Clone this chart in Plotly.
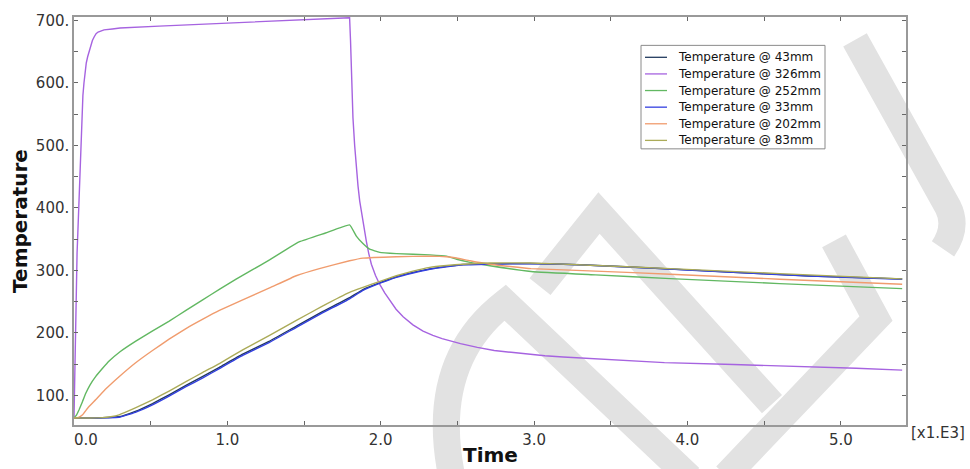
import plotly.graph_objects as go

# ---------------- data ----------------
series_names = ["Temperature @ 43mm", "Temperature @ 326mm", "Temperature @ 252mm",
                "Temperature @ 33mm", "Temperature @ 202mm", "Temperature @ 83mm"]
series_colors = ["#223a5e", "#a663e0", "#62b862", "#3340e0", "#f09c6e", "#abab58"]

t_43 = [0, 150, 220, 294, 400, 512, 620, 730, 840, 948, 1100, 1275, 1450, 1620, 1797,
        1884, 2000, 2102, 2210, 2320, 2430, 2538, 2712, 2974, 3300, 3824, 4300, 4800, 5400]
T_43 = [64, 64, 64.6, 65.8, 74.5, 87, 101, 116, 130.5, 145, 166, 187, 211, 234, 256.5,
        269.5, 281, 290, 297, 302.5, 306.5, 309.5, 310.5, 311.2, 309.2, 303.2, 297.2, 291.2, 286.5]

t_326 = [0, 4, 8, 12, 16, 20, 25, 29, 33, 38, 42, 47, 52, 58, 65, 72, 80, 89, 98, 109, 120,
         132, 144, 157, 170, 183, 196, 250, 300, 555, 993, 1425, 1600, 1797,
         1803, 1808, 1813, 1819, 1830, 1841, 1852, 1863, 1874, 1884, 1895, 1906, 1922, 1939,
         1966, 1993, 2026, 2059, 2100, 2146, 2210, 2276, 2340, 2400, 2460, 2520, 2630,
         2740, 2850, 2950, 3070, 3190, 3500, 3850, 4300, 4739, 5100, 5400]
T_326 = [64, 125, 180, 238, 290, 328, 360, 387, 411, 452, 490, 524, 554, 580, 600, 618, 632,
         642, 650, 660, 668, 674, 679, 681.5, 683, 684, 685, 686.5, 688, 691, 696, 700, 702, 704.5,
         668, 623, 584, 544, 500, 464, 435, 411, 393, 379, 362, 347, 327, 310,
         292, 278, 264, 252, 238, 226, 213, 203, 196, 191, 187, 183, 177,
         172, 169, 166, 163.5, 161.5, 157, 152.5, 149.5, 146.5, 143.5, 140.5]

t_252 = [0, 15, 33, 55, 76, 105, 141, 185, 229, 300, 403, 510, 621, 730, 839, 950, 1057,
         1170, 1275, 1380, 1471, 1640, 1797, 1841, 1884, 1928, 1993, 2102, 2320, 2429,
         2495, 2582, 2712, 2980, 3400, 3889, 4600, 5400]
T_252 = [64, 68, 77, 90, 103, 117, 130, 143, 155, 170, 187, 203, 219, 236, 253, 270, 286,
         302, 317, 333, 346, 360, 373, 355, 343, 334, 329, 327, 325, 323,
         318, 313, 307.5, 298.4, 293, 287, 279, 271]

t_33 = [0, 150, 220, 294, 400, 512, 620, 730, 840, 948, 1100, 1275, 1450, 1620, 1797,
        1884, 2000, 2102, 2210, 2320, 2430, 2538, 2712, 2974, 3300, 3824, 4300, 4800, 5400]
T_33 = [64, 64, 64.3, 65, 73, 85, 99, 114, 128, 143, 164, 185, 209, 232, 254.5,
        268, 280, 289, 296, 302, 306, 309, 310, 311, 309, 303, 297, 291, 286]

t_202 = [0, 30, 54, 90, 141, 210, 294, 400, 512, 620, 730, 840, 948, 1100, 1275, 1449,
         1600, 1797, 1884, 2102, 2320, 2429, 2495, 2582, 2712, 2980, 3400, 3889, 4600, 5400]
T_202 = [64, 65, 68.6, 80, 93, 111, 130, 152, 172, 190, 207, 222, 236, 253, 272, 291.5,
         303, 315.5, 319.7, 322, 323, 322, 320, 315.5, 310, 303, 299, 294, 286, 278]

t_83 = [0, 100, 185, 240, 294, 400, 512, 620, 730, 840, 948, 1100, 1275, 1450, 1620, 1797,
        1884, 2000, 2102, 2210, 2320, 2430, 2538, 2712, 2974, 3400, 3889, 4600, 5400]
T_83 = [64, 64, 64.5, 66, 69, 80, 93, 107, 122, 137, 151, 173, 196, 220, 243, 265,
        273, 283, 291.5, 299, 305, 308, 310, 312, 312, 308, 303, 295, 286.5]

x_tick_vals = [0, 500, 1000, 1500, 2000, 2500, 3000, 3500, 4000, 4500, 5000]
x_tick_text = ["\u00a0\u00a0\u00a0\u00a0\u00a00.0", "", "1.0", "", "2.0", "", "3.0", "", "4.0", "", "5.0"]
y_tick_vals = [100, 150, 200, 250, 300, 350, 400, 450, 500, 550, 600, 650, 700]
y_tick_text = ["100.", "", "200.", "", "300.", "", "400.", "", "500.", "", "600.", "", "700."]

series_t = [t_43, t_326, t_252, t_33, t_202, t_83]
series_T = [T_43, T_326, T_252, T_33, T_202, T_83]
series_shape = ["spline", "linear", "spline", "spline", "spline", "spline"]

# ---------------- layout helpers (pixel -> paper) ----------------
ML, MR, MT, MB, W, H = 74, 64, 15, 44, 970, 469
PW, PH = W - ML - MR, H - MT - MB


def px(xp):
    return (xp - ML) / PW


def py(yp):
    return (H - MB - yp) / PH


def path(cmds):
    out = []
    for c in cmds:
        if isinstance(c, str):
            out.append(c)
        else:
            out.append("%.5f,%.5f" % (px(c[0]), py(c[1])))
    return " ".join(out)


# ---------------- figure ----------------
fig = go.Figure()
for name, tt, TT, col, shp in zip(series_names, series_t, series_T, series_colors, series_shape):
    line = dict(color=col, width=1.4, shape=shp)
    if shp == "spline":
        line["smoothing"] = 0.3
    fig.add_trace(go.Scatter(x=tt, y=TT, mode="lines", name=name, showlegend=False, line=line))

tick_font = dict(family="DejaVu Sans", size=15, color="#333333")
title_font = dict(family="DejaVu Sans", size=20, color="#111111", weight="bold")

shapes = []
# light grey watermark strokes (background decoration)
wm = dict(color="#e2e2e2", width=27)
wm_paths = [
    ["M", (452, 478), "Q", (428, 362), (505, 302), "L", (690, 478)],
    ["M", (540, 286), "L", (599, 212), "L", (772, 404)],
    ["M", (855, 38), "L", (948, 206), "Q", (958, 226), (943, 248)],
    ["M", (834, 240), "L", (876, 318), "L", (726, 476)],
]
for p in wm_paths:
    shapes.append(dict(type="path", xref="paper", yref="paper", path=path(p),
                       line=dict(color=wm["color"], width=wm["width"]), layer="below"))

annotations = [
    dict(text="Temperature", xref="paper", yref="paper", x=-0.065, y=0.5,
         textangle=-90, showarrow=False, font=title_font,
         xanchor="center", yanchor="middle"),
    dict(text="Time", xref="paper", yref="paper", x=0.5, y=-0.073,
         showarrow=False, font=title_font, xanchor="center", yanchor="middle"),
    dict(text="[x1.E3]", xref="paper", yref="paper", x=1.0385, y=-0.02,
         showarrow=False, font=tick_font, xanchor="center", yanchor="middle"),
]

# legend box drawn by hand
shapes.append(dict(type="rect", xref="paper", yref="paper",
                   x0=px(641), x1=px(825), y0=py(147.5), y1=py(43.5),
                   line=dict(color="#8a8a8a", width=1), fillcolor="white", layer="above"))
for i, (name, col) in enumerate(zip(series_names, series_colors)):
    yy = 55.5 + i * 16.7
    shapes.append(dict(type="line", xref="paper", yref="paper",
                       x0=px(645), x1=px(667), y0=py(yy), y1=py(yy),
                       line=dict(color=col, width=1.3), layer="above"))
    annotations.append(dict(text=name, xref="paper", yref="paper", x=px(676), y=py(yy),
                            xanchor="left", yanchor="middle", showarrow=False,
                            font=dict(family="DejaVu Sans", size=12, color="#111111")))

fig.update_layout(
    width=W, height=H,
    margin=dict(l=ML, r=MR, t=MT, b=MB),
    paper_bgcolor="white", plot_bgcolor="rgba(0,0,0,0)",
    showlegend=False,
    shapes=shapes,
    annotations=annotations,
)

fig.update_xaxes(range=[0, 5425], tickmode="array", tickvals=x_tick_vals, ticktext=x_tick_text,
                 ticks="inside", ticklen=4, tickwidth=1, tickcolor="#666666",
                 showline=True, linecolor="#999999", linewidth=1.5, mirror="ticks",
                 showgrid=False, zeroline=False, tickfont=tick_font)
fig.update_yaxes(range=[52.7, 705.6], tickmode="array", tickvals=y_tick_vals, ticktext=y_tick_text,
                 ticks="inside", ticklen=4, tickwidth=1, tickcolor="#666666",
                 showline=True, linecolor="#999999", linewidth=1.5, mirror="ticks",
                 showgrid=False, zeroline=False, tickfont=tick_font)

fig.write_html("out.html")
